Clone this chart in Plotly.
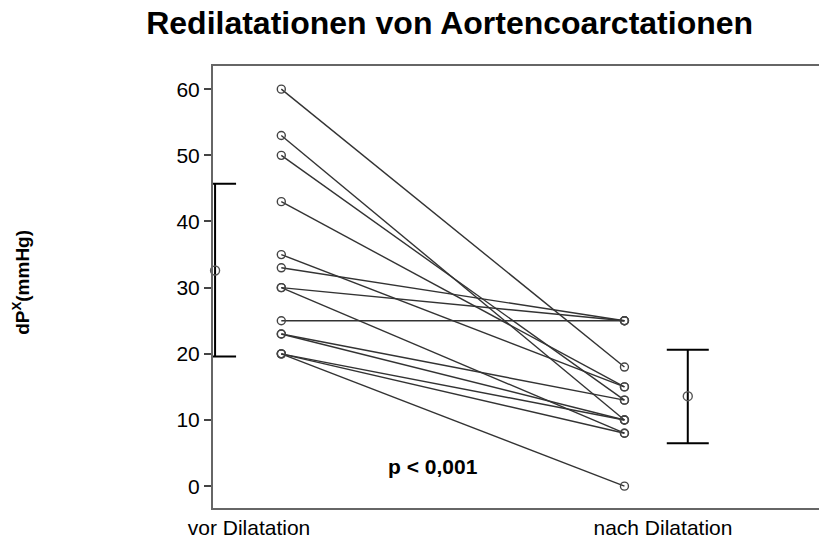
import plotly.graph_objects as go

# Data
groups = ["vor Dilatation", "nach Dilatation"]
vor = [60, 53, 50, 43, 35, 33, 30, 30, 25, 23, 23, 20, 20, 20]
nach = [18, 10, 13, 15, 15, 25, 25, 8, 25, 13, 10, 10, 8, 0]
means = [32.6, 13.6]
ci_low = [19.6, 6.5]
ci_high = [45.7, 20.6]
y_ticks = [0, 10, 20, 30, 40, 50, 60]
p_text = "p < 0,001"

# Layout positions (x offsets of the marks around each category)
pos = [1.0, 2.0]
pt_off = [0.078, -0.093]
eb_off = [-0.082, 0.06]

FONT = "Liberation Sans, Arial, sans-serif"
fig = go.Figure()

xl = pos[0] + pt_off[0]
xr = pos[1] + pt_off[1]
for a, b in zip(vor, nach):
    fig.add_trace(go.Scatter(
        x=[xl, xr], y=[a, b], mode="lines+markers",
        line=dict(color="#333333", width=1.4),
        marker=dict(symbol="circle-open", size=8, color="#444444",
                    line=dict(width=1.4)),
        showlegend=False, hoverinfo="skip"))

ex = [p + o for p, o in zip(pos, eb_off)]
fig.add_trace(go.Scatter(
    x=ex, y=means, mode="markers", cliponaxis=False,
    marker=dict(symbol="circle-open", size=9, color="#555555",
                line=dict(width=1.4)),
    error_y=dict(type="data", symmetric=False,
                 array=[h - m for h, m in zip(ci_high, means)],
                 arrayminus=[m - l for m, l in zip(means, ci_low)],
                 color="black", thickness=2, width=21),
    showlegend=False, hoverinfo="skip"))

fig.add_annotation(x=1.444, y=2.9, text="<b>" + p_text + "</b>",
                   showarrow=False, font=dict(family=FONT, size=21, color="black"))

fig.add_annotation(xref="paper", yref="paper", x=-0.318, y=0.51,
                   text="<b>dP<sup>X</sup>(mmHg)</b>", textangle=-90,
                   showarrow=False, xanchor="center", yanchor="middle",
                   font=dict(family=FONT, size=19, color="black"))

fig.update_layout(
    width=819, height=539,
    margin=dict(l=213, r=0, t=66, b=31, autoexpand=False),
    paper_bgcolor="white", plot_bgcolor="white",
    title=dict(text="<b>Redilatationen von Aortencoarctationen</b>",
               x=0.549, xanchor="center", y=0.957, yanchor="middle",
               font=dict(family=FONT, size=32, color="black")),
    font=dict(family=FONT, color="black"),
)
fig.update_xaxes(range=[0.913, 2.377], tickvals=pos, ticktext=groups,
                 automargin=False,
                 showgrid=False, zeroline=False, showline=True, mirror=True,
                 linecolor="#666666", linewidth=2, ticks="",
                 tickfont=dict(family=FONT, size=21, color="black"))
fig.update_yaxes(range=[-3.3, 63.5], tickvals=y_ticks, automargin=False,
                 showgrid=False, zeroline=False, showline=True,
                 linecolor="#666666", linewidth=2, ticks="outside",
                 ticklen=7, tickwidth=1.5, tickcolor="#444444",
                 tickfont=dict(family=FONT, size=21, color="black"))

fig.write_html("out.html", config={"displayModeBar": False},
               post_script="document.body.style.margin='0';"
                           "document.body.style.overflow='hidden';")
